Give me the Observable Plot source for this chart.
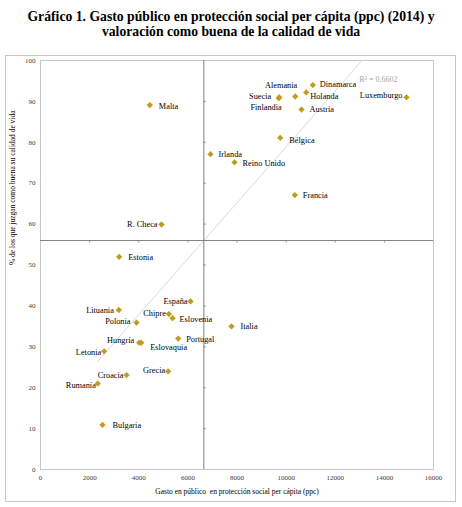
<!DOCTYPE html>
<html><head><meta charset="utf-8">
<script src="https://cdn.jsdelivr.net/npm/d3@7"></script>
<script src="https://cdn.jsdelivr.net/npm/@observablehq/plot@0.6"></script>
<style>
body{margin:0;background:#fff;width:462px;height:507px;position:relative;overflow:hidden;font-family:"Liberation Serif",serif;}
#title{position:absolute;top:8.5px;left:0;width:462px;text-align:center;font-weight:bold;font-size:13.7px;line-height:15px;color:#000;}
#frame{position:absolute;left:5px;top:55px;width:449px;height:445px;border:1px solid #c8c8c8;}
#chart{position:absolute;left:0;top:48px;}
</style></head><body>
<div id="title">Gráfico 1. Gasto público en protección social per cápita (ppc) (2014) y<br>valoración como buena de la calidad de vida</div>
<div id="frame"></div>
<div id="chart"></div>
<script>
// Data
const paises = ["Dinamarca","Alemania","Suecia","Finlandia","Holanda","Austria","Luxemburgo","Bélgica","Irlanda","Reino Unido","Francia","Malta","R. Checa","Estonia","España","Lituania","Chipre","Eslovenia","Polonia","Italia","Portugal","Hungría","Eslovaquia","Letonia","Grecia","Croacia","Rumanía","Bulgaria"];
const gasto = [11087,10371,9718,9700,10818,10627,14902,9760,6922,7899,10355,4451,4927,3203,6107,3189,5225,5375,3909,7777,5606,4018,4100,2592,5198,3502,2334,2524];
const calidad = [94.0,91.2,91.0,90.8,92.2,88.0,91.0,81.1,77.1,75.1,67.1,89.1,59.9,52.0,41.1,39.0,38.0,37.0,35.9,35.0,32.0,31.0,31.0,28.9,24.0,23.1,21.0,10.9];
const xTicks = [0,2000,4000,6000,8000,10000,12000,14000,16000];
const yTicks = [0,10,20,30,40,50,60,70,80,90,100];
const r2Label = "R² = 0,6602";
const xTitle = "Gasto en público  en protección social per cápita (ppc)";
const yTitle = "% de los que juzgan como buena su calidad de vida";

// Label placement (layout only): [anchor, dx, dy]
const labelPlacement = {
  "Dinamarca":["start",7,-1], "Alemania":["end",2,-11], "Suecia":["end",-8,-1], "Finlandia":["end",3,9],
  "Holanda":["start",4,4], "Austria":["start",8,0], "Luxemburgo":["end",-4,-1.5], "Bélgica":["start",9,3],
  "Irlanda":["start",8,0], "Reino Unido":["start",8,1], "Francia":["start",8,0], "Malta":["start",9,1.5],
  "R. Checa":["end",-4,0], "Estonia":["start",9,1], "España":["end",-3,0], "Lituania":["end",-5,0],
  "Chipre":["end",-3,-1], "Eslovenia":["start",7,1.5], "Polonia":["end",-6,-1], "Italia":["start",9,0],
  "Portugal":["start",8,1], "Hungría":["end",-5,-2], "Eslovaquia":["start",9,5], "Letonia":["end",-3,1],
  "Grecia":["end",-3,-1], "Croacia":["end",-3,0], "Rumanía":["end",-2,2], "Bulgaria":["start",10,0]
};

const data = paises.map((p,i)=>({pais:p, x:gasto[i], y:calidad[i]}));
const meanX = d3.mean(gasto), meanY = d3.mean(calidad);

const W = 462, H = 459, mL = 40, mR = 29, mT = 12, mB = 38;
const xPerPx = 16000/(W-mL-mR), yPerPx = 100/(H-mT-mB);
const tickLen = 2.5;

const gold = "#C49A1C";
const labelMarks = paises.map(p=>{
  const [a,dx,dy] = labelPlacement[p];
  return Plot.text(data.filter(d=>d.pais===p), {x:"x", y:"y", text:"pais", textAnchor:a, dx, dy, fontSize:8.3, fill:"#000"});
});

const chart = Plot.plot({
  width: W, height: H, marginLeft: mL, marginRight: mR, marginTop: mT, marginBottom: mB,
  x: {domain:[0,16000]},
  y: {domain:[0,100]},
  style: {fontFamily:"'Liberation Serif', serif", background:"transparent"},
  marks: [
    Plot.frame({stroke:"#c8c8c8"}),
    Plot.axisX(xTicks, {tickSize:0, tickPadding:5.5, fontSize:7, fill:"#404040", tickFormat:d3.format("d"), label:null}),
    Plot.axisY(yTicks, {tickSize:0, tickPadding:5, fontSize:7, fill:"#404040", tickFormat:d3.format("d"), label:null}),
    Plot.linearRegressionY(data, {x:"x", y:"y", stroke:"#cfcfcf", strokeWidth:0.8, ci:0, clip:true}),
    Plot.ruleX([meanX], {stroke:"#808080", strokeWidth:1}),
    Plot.ruleY([meanY], {stroke:"#808080", strokeWidth:1}),
    Plot.ruleY(yTicks.slice(1,-1), {y:d=>d, x1:meanX, x2:meanX+tickLen*xPerPx, stroke:"#808080", strokeWidth:0.8}),
    Plot.ruleX(xTicks.slice(1,-1), {x:d=>d, y1:meanY, y2:meanY-tickLen*yPerPx, stroke:"#808080", strokeWidth:0.8}),
    Plot.dot(data, {x:"x", y:"y", symbol:"diamond2", r:2.6, fill:gold, stroke:gold, strokeWidth:0.5}),
    ...labelMarks,
    Plot.text([r2Label], {frameAnchor:"top-right", text:d=>d, textAnchor:"end", dx:-36, dy:16, fontSize:8, fill:"#a6a6a6"}),
    Plot.text([xTitle], {frameAnchor:"bottom", text:d=>d, dy:24, fontSize:7.5, fill:"#000"}),
    Plot.text([yTitle], {frameAnchor:"left", text:d=>d, dx:-28, rotate:-90, fontSize:7.5, fill:"#000"})
  ]
});
document.getElementById("chart").appendChild(chart);
</script>
</body></html>
